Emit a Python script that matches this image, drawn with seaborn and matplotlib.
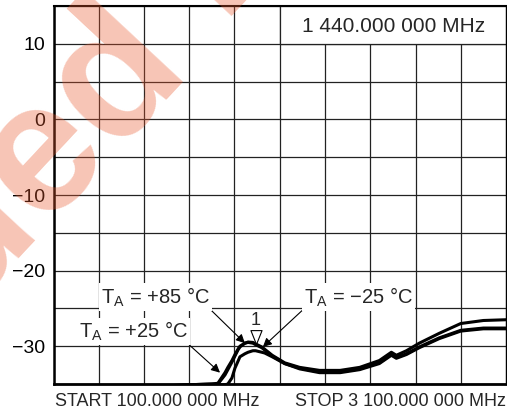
import numpy as np
import pandas as pd
import seaborn as sns
import matplotlib.pyplot as plt
from matplotlib.patches import Rectangle

# frequency sweep (MHz) and gain (dB)
freq = [100, 800, 1000, 1150, 1190, 1237, 1256, 1283, 1303, 1323, 1336, 1369, 1390,
        1422, 1440, 1481, 1500, 1550, 1633, 1732, 1864, 2000, 2130, 2260, 2340,
        2373, 2440, 2525, 2657, 2800, 2950, 3100]
db_p85 = [-36.0, -35.3, -35.1, -35.0, -35.0, -33.8, -33.1, -32.1, -31.3, -30.5, -30.1, -29.6, -29.45,
          -29.5, -29.7, -30.1, -30.4, -31.2, -32.2, -32.8, -33.2, -33.2, -32.8, -31.9, -30.8,
          -31.2, -30.6, -29.6, -28.3, -27.0, -26.6, -26.5]
db_p25 = [-36.0, -35.3, -35.1, -35.0, -34.9, -33.5, -32.8, -31.9, -31.1, -30.4, -30.0, -29.6, -29.5,
          -29.6, -29.8, -30.2, -30.5, -31.3, -32.3, -32.9, -33.4, -33.4, -33.0, -32.2, -31.1,
          -31.5, -31.0, -30.1, -28.9, -27.9, -27.6, -27.6]
db_m25 = [-36.5, -35.6, -35.3, -35.1, -35.1, -35.1, -35.0, -34.2, -32.9, -32.0, -31.4, -31.0, -30.8,
          -30.6, -30.6, -30.8, -30.9, -31.4, -32.3, -33.0, -33.5, -33.5, -33.1, -32.3, -31.2,
          -31.6, -31.1, -30.2, -29.0, -28.0, -27.7, -27.7]
temps = ["+85 °C", "+25 °C", "−25 °C"]

marker_freq = 1440
marker_label = "1 440.000 000 MHz"
start_label = "START 100.000 000 MHz"
stop_label = "STOP 3 100.000 000 MHz"

df = pd.DataFrame({
    "Frequency": freq * 3,
    "Gain": db_p85 + db_p25 + db_m25,
    "Temp": np.repeat(temps, len(freq)),
})

sns.set_style("white")
plt.rcParams["font.family"] = ["Liberation Sans", "DejaVu Sans"]
plt.rcParams["mathtext.default"] = "regular"

fig = plt.figure(figsize=(5.07, 4.15), dpi=100)
ax = fig.add_axes([53.5 / 507, 31 / 415, 452.5 / 507, 378 / 415])

sns.lineplot(data=df, x="Frequency", y="Gain", hue="Temp", palette=["black"] * 3,
             linewidth=2.2, legend=False, sort=False, ax=ax)

ax.set_xlim(100, 3100)
ax.set_ylim(-35, 15)
ax.set_xticks(np.arange(100, 3101, 300))
ax.set_xticklabels([])
ax.set_yticks([-30, -20, -10, 0, 10])
ax.set_yticks(np.arange(-35, 16, 5), minor=True)
ax.grid(True, which="both", color="#222222", lw=0.9)
ax.tick_params(which="both", length=0, labelsize=14, pad=6, colors="black")
ax.set_xlabel("")
ax.set_ylabel("")

for side, w in [("left", 1.8), ("top", 1.5), ("bottom", 2.0), ("right", 0.9)]:
    ax.spines[side].set_color("black")
    ax.spines[side].set_linewidth(w)

# marker readout box
ax.add_patch(Rectangle((1600, 10), 1500, 5, facecolor="white", edgecolor="#222222",
                       lw=0.9, zorder=1.5))
ax.text(2357, 12.3, marker_label, ha="center", va="center", fontsize=15, zorder=3)

# marker 1
marker_db = np.interp(marker_freq, freq, db_p85)
tri = [(0, 0), (-0.4, 1), (0.4, 1), (0, 0)]
ax.plot([marker_freq], [marker_db], marker=tri, markersize=20, markerfacecolor="white",
        markeredgecolor="black", markeredgewidth=0.8, zorder=4)
ax.annotate("1", xy=(marker_freq, marker_db), xytext=(0, 13.5), textcoords="offset points",
            ha="center", va="baseline", fontsize=13)

box = dict(boxstyle="square,pad=0.1", fc="white", ec="none")
arrow = dict(arrowstyle="-|>", color="black", lw=0.8, shrinkA=0, shrinkB=0, mutation_scale=13)
ax.annotate("T$_{A}$ = +85 °C", xy=(1369, -29.6), xytext=(774, -23.5), ha="center", va="center",
            fontsize=14.5, bbox=box, arrowprops=dict(arrow, relpos=(1, 0)))
ax.annotate("T$_{A}$ = +25 °C", xy=(1204, -33.5), xytext=(629, -28.1), ha="center", va="center",
            fontsize=14.5, bbox=box, arrowprops=dict(arrow, relpos=(1, 0)))
ax.annotate("T$_{A}$ = −25 °C", xy=(1488, -30.1), xytext=(2122, -23.5), ha="center", va="center",
            fontsize=14.5, bbox=box, arrowprops=dict(arrow, relpos=(0, 0)))

ax.text(0.004, -0.047, start_label, transform=ax.transAxes, ha="left", va="center", fontsize=13)
ax.text(1.0, -0.047, stop_label, transform=ax.transAxes, ha="right", va="center", fontsize=13)

# watermark, mostly off the canvas
wm = dict(rotation=47, rotation_mode="anchor", va="baseline", fontsize=134,
          fontweight="bold", color="#e8592e", alpha=0.35, zorder=10)
fig.text(189 / 507, 1 - 63 / 415, "Discontinued", ha="right", **wm)
fig.text(189 / 507, 1 - 63 / 415, " Product", ha="left", **wm)

fig.savefig("out.png", dpi=100)
